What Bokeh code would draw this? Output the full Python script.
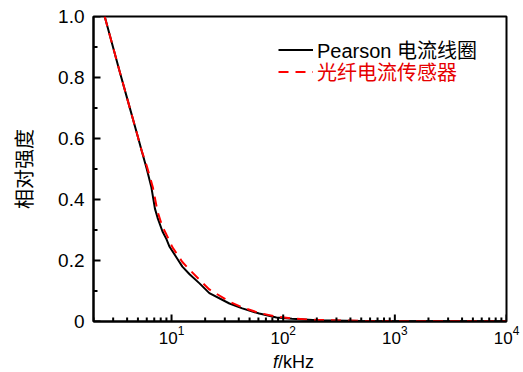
import math
from bokeh.plotting import figure
from bokeh.layouts import column
from bokeh.models import (FixedTicker, CustomJSTickFormatter, Legend, LegendItem,
                          Range1d, Div)
from bokeh.embed import file_html
from bokeh.resources import INLINE

# ---- data ----
freq_black = [2.52, 3.43, 4.05, 4.97, 5.4, 6.0, 6.6, 7.1, 7.5, 8.3, 9.0, 9.6,
              11.3, 12.5, 14.5, 17.8, 21.8, 33, 43, 61, 87, 120, 200, 500,
              10000]
pearson = [1.0, 0.82, 0.725, 0.608, 0.56, 0.50, 0.44, 0.37, 0.34, 0.295,
           0.27, 0.245, 0.205, 0.18, 0.155, 0.125, 0.093, 0.059, 0.043,
           0.026, 0.013, 0.009, 0.004, 0.002, 0.001]
freq_red = [2.52, 3.43, 4.05, 4.97, 5.4, 6.0, 6.8, 7.5, 8.3, 9.0, 10.2, 12.5,
            14.5, 17.8, 21.8, 33, 43, 61, 87, 120, 200, 500, 10000]
fiber = [1.0, 0.82, 0.725, 0.608, 0.56, 0.51, 0.44, 0.36, 0.31, 0.285,
         0.243, 0.195, 0.17, 0.137, 0.105, 0.065, 0.046, 0.028, 0.016, 0.01,
         0.005, 0.002, 0.001]
x_start, x_end = 2, 10000
y_start, y_end = 0, 1.0
x_major = [10, 100, 1000, 10000]
x_minor = [m * d for d in (1, 10, 100, 1000) for m in range(2, 10)]
y_major = [0, 0.2, 0.4, 0.6, 0.8, 1.0]
y_minor = [0.1, 0.3, 0.5, 0.7, 0.9]
series_names = ["Pearson 电流线圈", "光纤电流传感器"]
y_title = "相对强度"
x_title_html = "<i>f</i>/kHz"

FONT = "'Liberation Sans', 'Noto Sans CJK SC'"

p = figure(width=523, height=352, x_axis_type="log",
           x_range=Range1d(x_start, x_end), y_range=Range1d(y_start, y_end),
           output_backend="svg", toolbar_location=None,
           min_border_left=93, min_border_top=16, min_border_right=17,
           min_border_bottom=31)
p.grid.visible = False
p.background_fill_color = "white"
p.border_fill_color = "white"
p.outline_line_color = "black"
p.outline_line_width = 2

r1 = p.line(freq_black, pearson, line_color="black", line_width=2)
r2 = p.line(freq_red, fiber, line_color="#ff0000", line_width=2,
            line_dash="10 7")

# inward tick marks drawn from the tick positions
p.ray(x=x_major, y=[y_start] * len(x_major), length=7, angle=math.pi / 2,
      length_units="screen", line_color="black", line_width=2)
p.ray(x=x_minor, y=[y_start] * len(x_minor), length=4, angle=math.pi / 2,
      length_units="screen", line_color="black", line_width=2)
p.ray(x=[x_start] * len(y_major), y=y_major, length=7, angle=0,
      length_units="screen", line_color="black", line_width=2)
p.ray(x=[x_start] * len(y_minor), y=y_minor, length=4, angle=0,
      length_units="screen", line_color="black", line_width=2)

for ax in (p.xaxis[0], p.yaxis[0]):
    ax.axis_line_width = 2
    ax.major_tick_in = 0
    ax.major_tick_out = 0
    ax.minor_tick_in = 0
    ax.minor_tick_out = 0
    ax.major_label_text_font = FONT
    ax.major_label_text_color = "black"

p.xaxis[0].major_label_text_font_size = "17px"
p.xaxis[0].ticker = FixedTicker(ticks=x_major, minor_ticks=x_minor)
p.xaxis[0].major_label_standoff = 4
p.yaxis[0].major_label_text_font_size = "19px"
p.yaxis[0].ticker = FixedTicker(ticks=y_major, minor_ticks=y_minor)
p.yaxis[0].formatter = CustomJSTickFormatter(
    code="return tick == 0 ? '0' : tick.toFixed(1);")
p.yaxis[0].major_label_standoff = 9
p.yaxis[0].axis_label = y_title
p.yaxis[0].axis_label_text_font = FONT
p.yaxis[0].axis_label_text_font_size = "20px"
p.yaxis[0].axis_label_text_font_style = "normal"
p.yaxis[0].axis_label_text_color = "black"
p.yaxis[0].axis_label_standoff = 19

common = dict(padding=0, margin=0, spacing=0, border_line_color=None,
              background_fill_alpha=0, glyph_width=35, glyph_height=21,
              label_height=21, label_standoff=4,
              label_text_font=FONT, label_text_font_size="20px")
leg1 = Legend(items=[LegendItem(label=series_names[0], renderers=[r1])],
              location=(185, 257), label_text_color="black", **common)
leg2 = Legend(items=[LegendItem(label=series_names[1], renderers=[r2])],
              location=(185, 235), label_text_color="#e60000", **common)
p.add_layout(leg1, "center")
p.add_layout(leg2, "center")

# x-axis title (italic f + upright /kHz) as real text below the plot
x_title = Div(text=x_title_html, width=250, height=20, margin=(0, 0, 0, 273),
              styles={"font-family": "'Liberation Sans', sans-serif",
                      "font-size": "18px", "line-height": "20px",
                      "color": "black", "white-space": "nowrap"})

layout = column(p, x_title, spacing=0)
open("out.html", "w").write(file_html(layout, INLINE))
